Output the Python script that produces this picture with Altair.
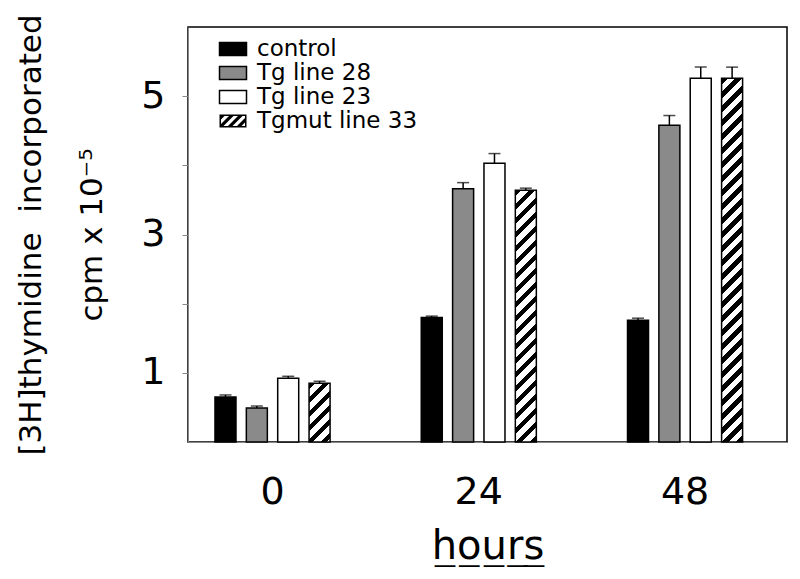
import altair as alt
import pandas as pd

# ---------------- data ----------------
hours = ["0", "24", "48"]
series = ["control", "Tg line 28", "Tg line 23", "Tgmut line 33"]
control = [0.65, 1.80, 1.76]
tg_line_28 = [0.49, 3.66, 4.58]
tg_line_23 = [0.92, 4.03, 5.26]
tgmut_line_33 = [0.85, 3.64, 5.26]
control_err = [0.03, 0.02, 0.03]
tg_line_28_err = [0.03, 0.09, 0.14]
tg_line_23_err = [0.03, 0.14, 0.16]
tgmut_line_33_err = [0.03, 0.03, 0.16]
y_ticks = [1, 2, 3, 4, 5]
fills = ["black", "#8a8a8a", "white", "white"]

rows = []
for s, vals, errs in zip(series,
                         [control, tg_line_28, tg_line_23, tgmut_line_33],
                         [control_err, tg_line_28_err, tg_line_23_err, tgmut_line_33_err]):
    for h, v, e in zip(hours, vals, errs):
        rows.append({"hours": h, "series": s, "value": v, "hi": v + e})
df = pd.DataFrame(rows)
hatch_df = df[df["series"] == series[3]].assign(hatch_key=series[3])

# ---------------- layout / style ----------------
W, H = 599, 415
Y_MAX = 6
FONT = "DejaVu Sans"
X_PI, X_PO, X_AL = 0.442, 0.173, 0.378
XO_PI = 0.33
x_step = W / (3 - X_PI + 2 * X_PO)
BAR_W = x_step * (1 - X_PI) / (4 - XO_PI) * (1 - XO_PI)
PERIOD = 14.0
DARK = 0.45


def hatch_gradient(value):
    w = BAR_W
    h = value * H / Y_MAX
    k = (w + h) / (w * w + h * h)
    n = (w + h) / PERIOD
    stops = []
    i = 0
    while i < n:
        a = i / n
        b = min((i + DARK) / n, 1.0)
        c = min((i + 1) / n, 1.0)
        stops += [{"offset": a, "color": "black"}, {"offset": b, "color": "black"},
                  {"offset": b, "color": "white"}, {"offset": c, "color": "white"}]
        i += 1
    return {"gradient": "linear", "stops": stops, "x1": 0, "y1": 0, "x2": w * k, "y2": h * k}


def clip_poly(poly, xmin, xmax, ymin, ymax):
    def clip(pts, inside, inter):
        out = []
        for i in range(len(pts)):
            cur, prev = pts[i], pts[i - 1]
            if inside(cur):
                if not inside(prev):
                    out.append(inter(prev, cur))
                out.append(cur)
            elif inside(prev):
                out.append(inter(prev, cur))
        return out

    def ix(x0):
        return lambda p, q: (x0, p[1] + (q[1] - p[1]) * (x0 - p[0]) / (q[0] - p[0]))

    def iy(y0):
        return lambda p, q: (p[0] + (q[0] - p[0]) * (y0 - p[1]) / (q[1] - p[1]), y0)

    pts = poly
    for inside, inter in [(lambda p: p[0] >= xmin, ix(xmin)), (lambda p: p[0] <= xmax, ix(xmax)),
                          (lambda p: p[1] >= ymin, iy(ymin)), (lambda p: p[1] <= ymax, iy(ymax))]:
        if not pts:
            break
        pts = clip(pts, inside, inter)
    return pts


SYM_R = 6.0
HX, HY = 13.5 / SYM_R, 6.5 / SYM_R
RECT_PATH = f"M{-HX:.3f},{-HY:.3f}L{HX:.3f},{-HY:.3f}L{HX:.3f},{HY:.3f}L{-HX:.3f},{HY:.3f}Z"
FR = 1.5 / SYM_R
ix0, ix1, iy0, iy1 = -HX + FR, HX - FR, -HY + FR, HY - FR
parts = [RECT_PATH, f"M{ix0:.3f},{iy0:.3f}L{ix0:.3f},{iy1:.3f}L{ix1:.3f},{iy1:.3f}L{ix1:.3f},{iy0:.3f}Z"]
pu = 9.0 / SYM_R
for m in range(-5, 6):
    a = m * pu
    b = a + 0.5 * pu
    Lb = 6
    c = clip_poly([(a + Lb, -Lb), (b + Lb, -Lb), (b - Lb, Lb), (a - Lb, Lb)], ix0, ix1, iy0, iy1)
    if len(c) >= 3:
        parts.append("M" + "L".join(f"{x:.3f},{y:.3f}" for x, y in c) + "Z")
HATCH_PATH = "".join(parts)

LEG_X, LEG_Y = 33.5, 10.5
LEG2_DY = 72
LEG_FS = 23
LEG_OFF = 12.5

x_enc = alt.X("hours:N", sort=hours,
              scale=alt.Scale(paddingInner=X_PI, paddingOuter=X_PO, align=X_AL),
              axis=alt.Axis(title="h\u0332o\u0332u\u0332r\u0332s\u0332", labelAngle=0, tickSize=0,
                            labelPadding=50, labelBaseline="middle", labelFontSize=38,
                            labelFont=FONT, titleFont=FONT, titleFontSize=40,
                            titleFontWeight="normal", titleX=W / 2, titleY=116,
                            titleBaseline="alphabetic", titleAlign="center"))
xo_enc = alt.XOffset("series:N", sort=series, scale=alt.Scale(paddingInner=XO_PI, paddingOuter=0))

y_axis = alt.Axis(values=y_ticks, labelExpr="datum.value % 2 == 1 ? datum.label : ''",
                  tickSize=6, labelPadding=17, labelFontSize=38, labelFont=FONT,
                  title=["[3H]thymidine\u00a0\u00a0incorporated", "cpm x 10\u207b\u2075"],
                  titleFont=FONT, titleFontSize=31, titleFontWeight="normal",
                  titleX=-157, titleY=H / 2, titleAngle=270, titleAlign="center",
                  titleBaseline="middle", titleLineHeight=61, grid=False)
y_scale = alt.Scale(domain=[0, Y_MAX], nice=False)


def y_of(field):
    return alt.Y(f"{field}:Q", scale=y_scale, axis=y_axis)


fill_enc = alt.Fill(
    "series:N",
    scale=alt.Scale(domain=series, range=fills),
    legend=alt.Legend(values=series[:3], orient="none", legendX=LEG_X, legendY=LEG_Y,
                      title=None, symbolType=RECT_PATH, symbolSize=SYM_R * SYM_R * 4,
                      symbolStrokeColor="black", symbolStrokeWidth=1.5,
                      labelFont=FONT, labelFontSize=LEG_FS, labelOffset=LEG_OFF, labelLimit=400,
                      rowPadding=0, padding=0, labelColor="black"),
    condition=[{"test": f"datum.series === '{series[3]}' && datum.hours === '{h}'",
                "value": hatch_gradient(v)} for h, v in zip(hours, tgmut_line_33)],
)

base = alt.Chart(df)
bars = base.mark_bar(stroke="black", strokeWidth=1.5).encode(
    x=x_enc, xOffset=xo_enc, y=y_of("value"), fill=fill_enc)
rules = base.mark_rule(color="black", strokeWidth=1.5).encode(
    x=x_enc, xOffset=xo_enc, y=y_of("value"), y2="hi:Q")
caps = base.mark_tick(color="black", thickness=1.5, size=12, orient="horizontal").encode(
    x=x_enc, xOffset=xo_enc, y=y_of("hi"))
legend2 = alt.Chart(hatch_df).mark_point(filled=True, color="black", opacity=0,
                                         size=SYM_R * SYM_R * 4).encode(
    x=x_enc, xOffset=xo_enc, y=y_of("value"),
    shape=alt.Shape("hatch_key:N", scale=alt.Scale(range=[HATCH_PATH]),
                    legend=alt.Legend(orient="none", legendX=LEG_X, legendY=LEG_Y + LEG2_DY,
                                      title=None, symbolSize=SYM_R * SYM_R * 4,
                                      symbolFillColor="black", symbolStrokeWidth=0,
                                      symbolOpacity=1, labelFont=FONT, labelFontSize=LEG_FS,
                                      labelOffset=LEG_OFF, labelLimit=400, padding=0,
                                      labelColor="black")))

chart = alt.layer(rules, bars, caps, legend2).properties(
    width=W, height=H,
    autosize=alt.AutoSizeParams(type="none"),
    padding={"left": 180, "top": 19, "right": 3, "bottom": 125},
    view=alt.ViewBackground(stroke="black", strokeWidth=1.5),
).configure_view(stroke="black", strokeWidth=1.5).configure_axis(
    domainColor="black", tickColor="black", labelColor="black", titleColor="black",
    domainWidth=1.5, tickWidth=1.5, grid=False,
).configure(background="white")

chart.save("out.html", embed_options={"renderer": "svg", "actions": False})
